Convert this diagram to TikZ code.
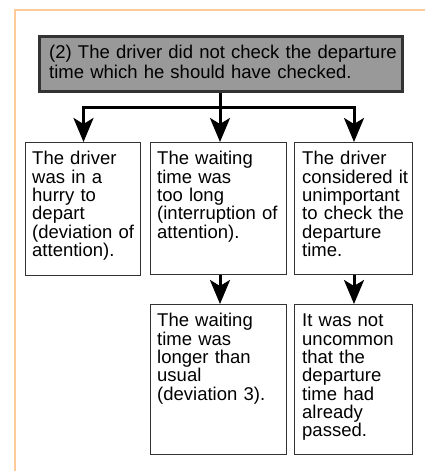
\documentclass[tikz,border=0pt]{standalone}
\usepackage{fontspec}
\setmainfont{Liberation Sans}
\usetikzlibrary{arrows.meta}
\definecolor{frameorange}{RGB}{255,204,153}
\definecolor{topgray}{RGB}{153,153,153}
\definecolor{edgegray}{RGB}{51,51,51}
\begin{document}
\begin{tikzpicture}[x=1pt,y=-1pt,
  box/.style={draw=edgegray, line width=1.2pt, fill=white, rectangle, inner sep=0pt, anchor=north west},
  topbox/.style={draw=edgegray, line width=2.5pt, fill=topgray, rectangle, inner sep=0pt, anchor=north west},
  txt/.style={anchor=base west, inner sep=0pt, align=left, text width=130pt, font=\fontsize{18.5}{18.33}\selectfont},
  toptxt/.style={anchor=base west, inner sep=0pt, align=left, text width=360pt, font=\fontsize{18.5}{19.8}\selectfont},
  conn/.style={line width=3pt, black},
  arr/.style={conn, -{Stealth[length=24pt,width=20pt,inset=6pt]}},
  frame/.style={draw=frameorange, line width=2pt}
]
\useasboundingbox (0,0) rectangle (425,471);
\fill[white] (0,0) rectangle (425,471);
% orange frame
\coordinate (fa) at (15,471);
\coordinate (fb) at (15,10);
\coordinate (fc) at (425,10);
\draw[frame] (fa) -- (fb) -- (fc);

% top box
\node[topbox, minimum width=363pt, minimum height=55pt] (top) at (38,35) {};
\node[toptxt] (ttop) at (49,58.3) {(2) The driver did not check the departure\\time which he should have checked.};

% row 1 boxes
\node[box, minimum width=115pt, minimum height=133pt] (b1) at (25,142) {};
\node[box, minimum width=136pt, minimum height=132pt] (b2) at (150,142) {};
\node[box, minimum width=118pt, minimum height=132pt] (b3) at (294,142) {};
\node[txt] (t1) at (32,164.8) {The driver\\was in a\\hurry to\\depart\\(deviation of\\attention).};
\node[txt] (t2) at (157,164.8) {The waiting\\time was\\too long\\(interruption of\\attention).};
\node[txt] (t3) at (302,164.8) {The driver\\considered it\\unimportant\\to check the\\departure\\time.};

% row 2 boxes
\node[box, minimum width=136pt, minimum height=150pt] (b4) at (150,304) {};
\node[box, minimum width=118pt, minimum height=150pt] (b5) at (294,304) {};
\node[txt] (t4) at (157,326.8) {The waiting\\time was\\longer than\\usual\\(deviation 3).};
\node[txt] (t5) at (302,326.8) {It was not\\uncommon\\that the\\departure\\time had\\already\\passed.};

% connectors
\coordinate (jn) at (220,107);
\coordinate (jl) at (83.5,107);
\coordinate (jr) at (354,107);
\draw[conn] (top.south -| jn) -- (jn);
\draw[conn, line cap=rect] (jl) -- (jr);
\draw[arr] (jl) -- (jl |- b1.north);
\draw[arr] (jn) -- (jn |- b2.north);
\draw[arr] (jr) -- (jr |- b3.north);
\draw[arr] (jn |- b2.south) -- (jn |- b4.north);
\draw[arr] (jr |- b3.south) -- (jr |- b5.north);
\end{tikzpicture}
\end{document}
